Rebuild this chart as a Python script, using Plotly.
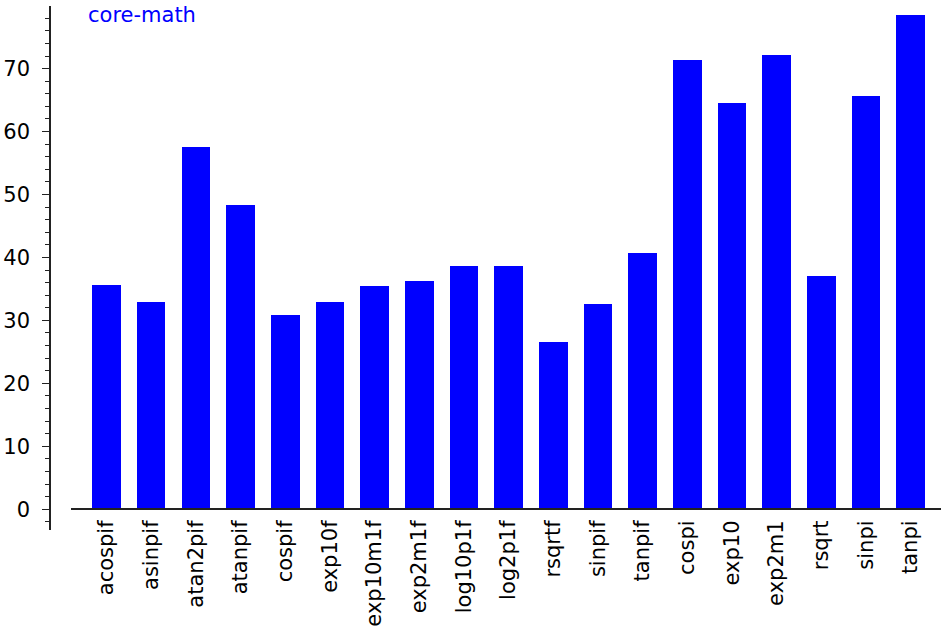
import plotly.graph_objects as go

# Benchmark results per function (core-math)
functions = ["acospif", "asinpif", "atan2pif", "atanpif", "cospif", "exp10f",
             "exp10m1f", "exp2m1f", "log10p1f", "log2p1f", "rsqrtf", "sinpif",
             "tanpif", "cospi", "exp10", "exp2m1", "rsqrt", "sinpi", "tanpi"]
values = [35.6, 32.9, 57.6, 48.3, 30.8, 32.9,
          35.5, 36.3, 38.7, 38.7, 26.5, 32.6,
          40.7, 71.3, 64.6, 72.1, 37.0, 65.7, 78.5]
series_name = "core-math"

W, H = 941, 628
ML, MR, MT, MB = 50, 0, 6, 98
FONT = "DejaVu Sans"
AXIS_COLOR = "#222222"
FS = 21

y_min, y_max = -3.3, 79.95
x_min, x_max = -0.795, 18.68
plot_w = W - ML - MR
x_start_frac = 21 / plot_w

fig = go.Figure()
fig.add_trace(go.Bar(
    x=list(range(len(functions))),
    y=values,
    width=0.64,
    marker=dict(color="#0000ff", line=dict(width=0)),
    name=series_name,
    showlegend=False,
))

fig.update_layout(
    width=W, height=H,
    margin=dict(l=ML, r=MR, t=MT, b=MB, pad=0),
    paper_bgcolor="white",
    plot_bgcolor="white",
    font=dict(family=FONT, size=FS, color="black"),
    bargap=0,
    xaxis=dict(
        domain=[x_start_frac, 1],
        anchor="free",
        position=-y_min / (y_max - y_min),
        range=[x_min, x_max],
        automargin=False,
        tickmode="array",
        tickvals=list(range(len(functions))),
        ticktext=functions,
        tickangle=-90,
        ticks="",
        showline=True,
        linecolor=AXIS_COLOR,
        linewidth=1.6,
        showgrid=False,
        zeroline=False,
        ticklabelstandoff=2,
        tickfont=dict(family=FONT, size=FS, color="black"),
    ),
    yaxis=dict(
        domain=[0, 1],
        anchor="free",
        position=0,
        range=[y_min, y_max],
        automargin=False,
        tickmode="linear",
        tick0=0,
        dtick=10,
        ticks="outside",
        ticklen=7,
        tickwidth=1.2,
        tickcolor=AXIS_COLOR,
        showline=True,
        linecolor=AXIS_COLOR,
        linewidth=1.6,
        showgrid=False,
        zeroline=False,
        ticklabelstandoff=8,
        tickfont=dict(family=FONT, size=FS, color="black"),
        minor=dict(
            tickmode="linear",
            tick0=0,
            dtick=2,
            ticks="outside",
            ticklen=4,
            tickwidth=1.2,
            tickcolor=AXIS_COLOR,
            showgrid=False,
        ),
    ),
)

# Series label in the upper-left corner
fig.add_annotation(
    text=series_name,
    xref="paper", yref="paper",
    x=(86 - ML) / plot_w, y=(H - MB - 1) / (H - MT - MB),
    xanchor="left", yanchor="top",
    showarrow=False,
    font=dict(family=FONT, size=FS, color="#0000ff"),
)

fig.write_html("out.html")
